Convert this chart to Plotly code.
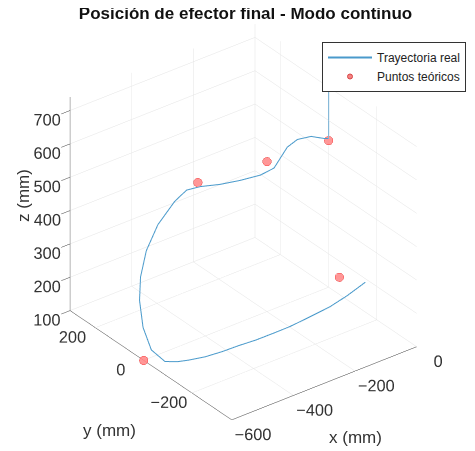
import math
import plotly.graph_objects as go

# Real trajectory (mm)
traj_x = [-143, -182, -218, -268, -304, -339, -375, -410, -446, -482, -517, -540,
          -566, -579, -559, -539, -528, -517, -495, -464, -445, -417, -352, -286,
          -221, -177, -156, -134, -101, -57, -14, 0, 0]
traj_y = [-335, -308, -284, -250, -226, -202, -177, -153, -129, -105, -81, -65,
          -45, -5, 55, 95, 105, 95, 75, 45, 20, 0, 0, 0,
          0, 0, 0, 0, 0, 0, 0, 0, 0]
traj_z = [331, 291, 260, 226, 203, 184, 165, 150, 133, 119, 110, 106,
          106, 126, 157, 211, 272, 352, 432, 505, 544, 554, 537, 525,
          517, 522, 545, 569, 580, 573, 551, 546, 740]

# Theoretical points (mm)
pts_x = [-600, -405, -200, 0, -200]
pts_y = [0, 25, 0, 0, -300]
pts_z = [100, 550, 550, 540, 350]

x_ticks = [-600, -400, -200, 0]
y_ticks = [-200, 0, 200]
z_ticks = [100, 200, 300, 400, 500, 600, 700]

x_range = [-600, 0]
y_range = [-365, 305]
z_range = [100, 740]

fig = go.Figure()
fig.add_trace(go.Scatter3d(
    x=traj_x, y=traj_y, z=traj_z, mode="lines",
    line=dict(color="#4a9acb", width=2),
    name="Trayectoria real"))
fig.add_trace(go.Scatter3d(
    x=pts_x, y=pts_y, z=pts_z, mode="markers",
    marker=dict(size=5, color="rgba(240,100,100,0.8)",
                line=dict(color="#d84545", width=1)),
    name="Puntos teóricos"))

axis_common = dict(
    showbackground=False, gridcolor="#e3e3e3", gridwidth=1,
    showline=True, linecolor="#3a3a3a", linewidth=1,
    zeroline=False, ticks="outside", tickangle=0,
    tickfont=dict(family="Liberation Sans, Arial", size=14, color="#333333"),
    showspikes=False, title=dict(text=""),
)

az, el, dist = math.radians(36.5), math.radians(29.5), 1.8
eye = dict(x=-math.cos(el) * math.sin(az) * dist,
           y=-math.cos(el) * math.cos(az) * dist,
           z=math.sin(el) * dist)

k = 1.18
fig.update_layout(
    width=475, height=451,
    margin=dict(l=0, r=0, t=0, b=0),
    paper_bgcolor="white",
    font=dict(family="Liberation Sans, Arial", size=12, color="#222222"),
    title=dict(text="<b>Posición de efector final - Modo continuo</b>",
               x=0.5, xanchor="center", y=0.988, yanchor="middle",
               font=dict(size=17, color="#111111")),
    scene=dict(
        domain=dict(x=[0.015, 1.0], y=[0.0, 1.0]),
        xaxis=dict(range=x_range, tickvals=x_ticks, ticklen=11,
                   tickcolor="rgba(0,0,0,0)", **axis_common),
        yaxis=dict(range=y_range, tickvals=y_ticks, ticklen=17,
                   tickcolor="rgba(0,0,0,0)", **axis_common),
        zaxis=dict(range=z_range, tickvals=z_ticks, ticklen=4,
                   tickcolor="#3a3a3a", **axis_common),
        aspectmode="manual",
        aspectratio=dict(x=0.875 * k, y=1.0 * k, z=0.937 * k),
        camera=dict(
            projection=dict(type="orthographic"),
            eye=eye,
            up=dict(x=0, y=0, z=1),
            center=dict(x=0.02, y=-0.015, z=-0.06),
        ),
    ),
    legend=dict(x=314 / 475, xanchor="left", y=1 - 34 / 451, yanchor="top",
                bgcolor="white", bordercolor="#333333", borderwidth=1,
                itemwidth=44,
                font=dict(size=12, color="#222222")),
)

# axis titles as paper annotations (pixel -> paper)
W, H = 475, 451
for txt, px, py, ang in [("x (mm)", 347, 429, 0), ("y (mm)", 101, 422, 0), ("z (mm)", 15, 188, -90)]:
    fig.add_annotation(text=txt, x=px / W, y=1 - py / H, xref="paper", yref="paper",
                       xanchor="center", yanchor="middle",
                       showarrow=False, textangle=ang,
                       font=dict(size=17, color="#333333"))

fig.write_html("out.html")
